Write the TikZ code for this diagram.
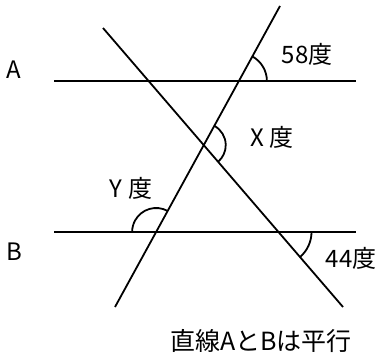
\documentclass[tikz,border=0pt]{standalone}
\usepackage{fontspec}
\setmainfont{Noto Sans CJK JP}
\begin{document}
\begin{tikzpicture}[x=1pt,y=1pt]
	\tikzstyle{line}  = [line width=1.8pt]
	\tikzstyle{label} = [inner sep=0pt, font=\fontsize{24}{24}\selectfont]
	\useasboundingbox (0,0) rectangle (382,360);

	\foreach \name/\x/\y in {a1/54/279, a2/356/279, b1/54/128, b2/356/128, p1/280/354, p2/115/53, q1/103/332, q2/343/53}
		\coordinate (\name) at (\x, \y);

	\foreach \from/\to in {a1/a2, b1/b2, p1/p2, q1/q2}
		\draw[line] (\from) -- (\to);

	\coordinate (pa) at (intersection of a1--a2 and p1--p2);
	\coordinate (pq) at (intersection of p1--p2 and q1--q2);
	\coordinate (pb) at (intersection of b1--b2 and p1--p2);
	\coordinate (qb) at (intersection of b1--b2 and q1--q2);

	\draw[line] (pa) ++(0:28) arc[start angle=0, end angle=61.3, radius=28];
	\draw[line] (pq) ++(61.3:22) arc[start angle=61.3, end angle=-49.3, radius=22];
	\draw[line] (pb) ++(61.3:24) arc[start angle=61.3, end angle=180, radius=24];
	\draw[line] (qb) ++(0:33) arc[start angle=0, end angle=-49.3, radius=33];

	\node[label] (la) at (14, 290) {A};
	\node[label] (lb) at (14, 108) {B};
	\node[label] (l58) at (307, 306) {58度};
	\node[label] (lx) at (272, 223) {X 度};
	\node[label] (ly) at (131, 172) {Y 度};
	\node[label] (l44) at (351, 102) {44度};
	\node[label, font=\fontsize{25}{25}\selectfont] (note) at (261, 19) {直線AとBは平行};
\end{tikzpicture}
\end{document}
